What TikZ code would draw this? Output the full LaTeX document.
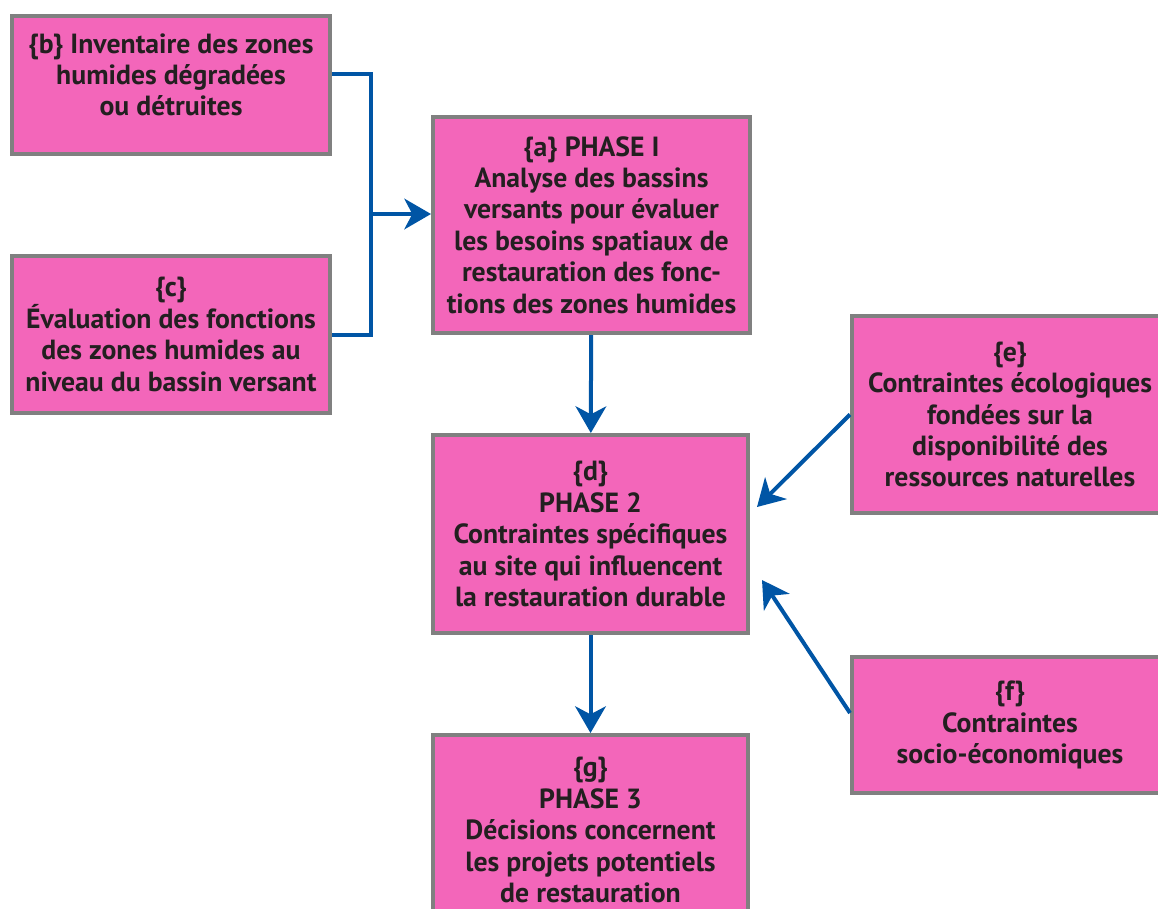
\documentclass[tikz,border=0pt]{standalone}
\usepackage{fontspec}
\setmainfont{PT Sans}
\usetikzlibrary{arrows.meta,calc}
\definecolor{boxpink}{RGB}{243,102,186}
\definecolor{boxgray}{RGB}{128,128,128}
\definecolor{linkblue}{RGB}{0,85,165}
\definecolor{textdark}{RGB}{35,31,32}

\begin{document}
\begin{tikzpicture}[x=0.75pt,y=-0.75pt,
  box/.style={draw=boxgray, line width=3pt, fill=boxpink, text=textdark,
    align=center, inner sep=0pt,
    font=\fontsize{20.8}{23.6}\selectfont\bfseries},
  link/.style={draw=linkblue, line width=3pt},
  arrow/.style={link, -{Stealth[length=20pt,width=23pt,inset=6pt]}}]

\useasboundingbox (0,0) rectangle (1158,908);
\clip (0,0) rectangle (1158,908);

% Left column: inputs to phase 1
\node[box, minimum width=238.5pt, minimum height=103.5pt] (b) at (171,85)
  {\{b\} Inventaire des zones\\humides dégradées\\ou détruites\\[-8pt]};
\node[box, minimum width=238.5pt, minimum height=117.75pt] (c) at (171,334.5)
  {\{c\}\\Évaluation des fonctions\\des zones humides au\\niveau du bassin versant};

% Middle column: the three phases
\node[box, minimum width=237.75pt, minimum height=162pt] (a) at (591.5,225)
  {\{a\} PHASE I\\Analyse des bassins\\versants pour évaluer\\les besoins spatiaux de\\restauration des fonc-\\tions des zones humides};
\node[box, minimum width=236.25pt, minimum height=148.5pt] (d) at (590.5,534)
  {\{d\}\\PHASE 2\\Contraintes spécifiques\\au site qui influencent\\la restauration durable};
\node[box, minimum width=236.25pt, minimum height=142.5pt] (g) at (590.5,830)
  {\{g\}\\PHASE 3\\Décisions concernent\\les projets potentiels\\de restauration};

% Right column: constraints
\node[box, minimum width=237pt, minimum height=147.75pt] (e) at (1010,414.5)
  {\{e\}\\Contraintes écologiques\\fondées sur la\\disponibilité des\\ressources naturelles};
\node[box, minimum width=237pt, minimum height=102pt] (f) at (1010,725)
  {\{f\}\\Contraintes\\socio-économiques};

% Bracket joining b and c
\coordinate (jtop) at (371,74);
\coordinate (jn) at (371,214);
\draw[link] (b.east |- jtop) -- (jtop) -- (jtop |- c.east) -- (c.east);
\draw[arrow] (jn) -- (a.west |- jn);

% Phase arrows
\draw[arrow] (a) -- (d);
\draw[arrow] (d) -- (g);

% Constraint arrows
\draw[arrow] (e.west) -- ($(d.east)+(7,-27)$);
\draw[arrow] ([yshift=9pt]f.west) -- ($(d.east)+(12,46)$);
\end{tikzpicture}
\end{document}
